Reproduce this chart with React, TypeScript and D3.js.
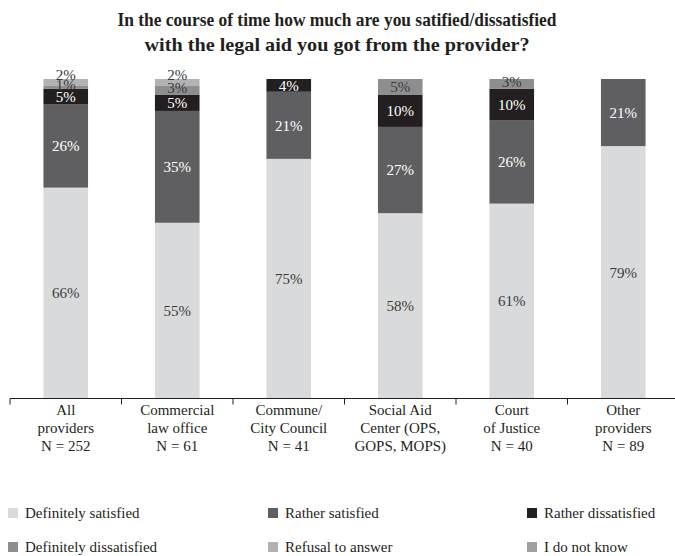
import React from "react";
import * as d3 from "d3";

const categories = [
  ["All", "providers", "N = 252"],
  ["Commercial", "law office", "N = 61"],
  ["Commune/", "City Council", "N = 41"],
  ["Social Aid", "Center (OPS,", "GOPS, MOPS)"],
  ["Court", "of Justice", "N = 40"],
  ["Other", "providers", "N = 89"],
];

const seriesNames = [
  "Definitely satisfied",
  "Rather satisfied",
  "Rather dissatisfied",
  "Definitely dissatisfied",
  "Refusal to answer",
  "I do not know",
];

const definitelySatisfied = [66, 55, 75, 58, 61, 79];
const ratherSatisfied = [26, 35, 21, 27, 26, 21];
const ratherDissatisfied = [5, 5, 4, 10, 10, 0];
const definitelyDissatisfied = [1, 3, 0, 5, 3, 0];
const refusalToAnswer = [2, 2, 0, 0, 0, 0];
const doNotKnow = [0, 0, 0, 0, 0, 0];

const seriesValues = [
  definitelySatisfied,
  ratherSatisfied,
  ratherDissatisfied,
  definitelyDissatisfied,
  refusalToAnswer,
  doNotKnow,
];

const colors = ["#d9dadc", "#5f5f61", "#231f20", "#8e8e90", "#b2b2b4", "#a0a0a2"];
const labelColors = ["#3a3a3a", "#ffffff", "#ffffff", "#3a3a3a", "#3a3a3a", "#3a3a3a"];

const W = 675;
const H = 556;
const font = "'Liberation Serif', 'DejaVu Serif', serif";

export default function App() {
  const axisY = 398.5;
  const x = d3.scaleBand<number>().domain(d3.range(categories.length)).range([10, 679]).paddingInner(0.6).paddingOuter(0.3);
  const y = d3.scaleLinear().domain([0, 100]).range([axisY, 79]);

  const rows = categories.map((_, i) => {
    const o: Record<string, number> = { idx: i };
    seriesNames.forEach((s, k) => (o[s] = seriesValues[k][i]));
    return o;
  });
  const stacked = d3.stack<Record<string, number>>().keys(seriesNames)(rows);

  const step = x.step();
  const boundaries = d3.range(categories.length).map((i) => (x(i) as number) + x.bandwidth() / 2 - step / 2);

  const legendCols = [8, 268, 527];
  const legendRows = [513, 547];

  // small labels sitting on another small segment are nudged upward
  const labelOffset = (k: number, i: number, v: number) => {
    if (v >= 4) return 0;
    const below = k > 0 ? seriesValues[k - 1][i] : 100;
    return below > 0 && below < 4 ? -7 : -2;
  };

  return (
    <svg width={W} height={H} style={{ position: "absolute", left: 0, top: 0, background: "#fff" }}>
      <text x={337} y={26} textAnchor="middle" fontFamily={font} fontWeight="bold" fontSize={19} fill="#231f20" textLength={439} lengthAdjust="spacingAndGlyphs">
        In the course of time how much are you satified/dissatisfied
      </text>
      <text x={337} y={51} textAnchor="middle" fontFamily={font} fontWeight="bold" fontSize={19} fill="#231f20" textLength={385} lengthAdjust="spacingAndGlyphs">
        with the legal aid you got from the provider?
      </text>

      {stacked.map((layer, k) => (
        <g key={layer.key}>
          {layer.map((d, i) =>
            d[1] - d[0] > 0 ? (
              <rect
                key={i}
                x={x(i)}
                y={y(d[1])}
                width={x.bandwidth()}
                height={y(d[0]) - y(d[1])}
                fill={colors[k]}
              />
            ) : null
          )}
        </g>
      ))}

      {stacked.map((layer, k) => (
        <g key={"lbl" + layer.key}>
          {layer.map((d, i) =>
            d[1] - d[0] > 0 ? (
              <text
                key={i}
                x={(x(i) as number) + x.bandwidth() / 2}
                y={(y(d[0]) + y(d[1])) / 2 + labelOffset(k, i, d[1] - d[0])}
                dy="0.35em"
                textAnchor="middle"
                fontFamily={font}
                fontSize={15}
                fill={labelColors[k]}
              >
                {`${d[1] - d[0]}%`}
              </text>
            ) : null
          )}
        </g>
      ))}

      <line x1={10} x2={W} y1={axisY} y2={axisY} stroke="#231f20" strokeWidth={1} />
      {boundaries.map((bx, i) => (
        <line key={i} x1={bx} x2={bx} y1={axisY} y2={axisY + 6} stroke="#231f20" strokeWidth={1} />
      ))}

      {categories.map((lines, i) => (
        <text
          key={i}
          x={(x(i) as number) + x.bandwidth() / 2}
          textAnchor="middle"
          fontFamily={font}
          fontSize={15}
          fill="#231f20"
        >
          {lines.map((l, j) => (
            <tspan key={j} x={(x(i) as number) + x.bandwidth() / 2} y={415 + j * 18}>
              {l}
            </tspan>
          ))}
        </text>
      ))}

      {seriesNames.map((name, k) => {
        const cx = legendCols[k % 3];
        const cy = legendRows[Math.floor(k / 3)];
        return (
          <g key={name}>
            <rect x={cx} y={cy - 5} width={10} height={10} fill={colors[k]} />
            <text x={cx + 17} y={cy} dy="0.35em" fontFamily={font} fontSize={15} fill="#231f20">
              {name}
            </text>
          </g>
        );
      })}
    </svg>
  );
}
